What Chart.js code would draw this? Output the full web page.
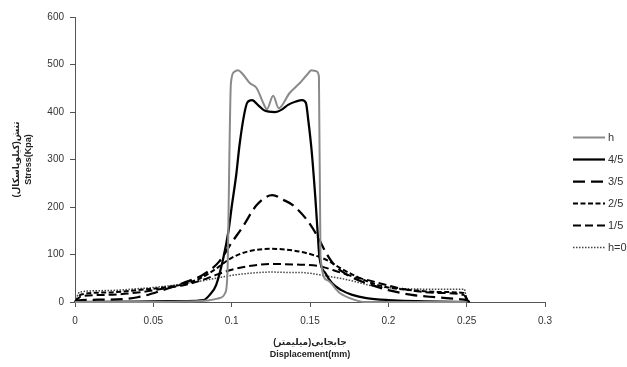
<!DOCTYPE html>
<html>
<head>
<meta charset="utf-8">
<script src="https://cdn.jsdelivr.net/npm/chart.js@4.4.0/dist/chart.umd.min.js"></script>
<style>
  html, body { margin: 0; padding: 0; background: #fff; }
  #wrap { width: 627px; height: 367px; position: relative; }
</style>
</head>
<body>
<div id="wrap"><canvas id="stressChart"></canvas></div>
<script>
// displacement (mm) / stress (kPa) per layer ratio
const hX = [0, 0.04, 0.07, 0.085, 0.092, 0.096, 0.0975, 0.0985, 0.0995, 0.1015, 0.104, 0.107, 0.1115, 0.116, 0.12, 0.1225, 0.1265, 0.13, 0.137, 0.1435, 0.148, 0.151, 0.154, 0.1557, 0.1567, 0.161, 0.169, 0.178, 0.185, 0.25];
const hY = [0, 0, 1, 3, 8, 20, 80, 300, 460, 484, 488, 480, 461, 450, 420, 406, 434, 408, 440, 461, 478, 488, 486, 475, 95, 46, 19, 5, 0, 0];

const fourX = [0, 0.04, 0.07, 0.082, 0.086, 0.09, 0.0945, 0.098, 0.1, 0.103, 0.105, 0.108, 0.11, 0.113, 0.117, 0.121, 0.1277, 0.132, 0.136, 0.141, 0.145, 0.1474, 0.149, 0.151, 0.1535, 0.155, 0.156, 0.16, 0.164, 0.17, 0.177, 0.186, 0.2, 0.25];
const fourY = [0, 1, 2, 4, 15, 35, 90, 150, 200, 270, 330, 395, 420, 425, 414, 403, 400, 405, 415, 422, 425, 419, 380, 320, 215, 140, 95, 60, 40, 25, 15, 8, 4, 0];

const threeX = [0, 0.004, 0.02, 0.04, 0.056, 0.069, 0.082, 0.092, 0.1, 0.107, 0.116, 0.126, 0.133, 0.139, 0.148, 0.155, 0.16, 0.165, 0.175, 0.19, 0.2, 0.215, 0.23, 0.245, 0.25, 0.252];
const threeY = [0, 4, 5, 10, 25, 40, 58, 85, 125, 158, 204, 225, 215, 204, 173, 137, 105, 80, 55, 35, 25, 15, 10, 6, 4, 0];

const twoX = [0, 0.004, 0.02, 0.04, 0.06, 0.07, 0.08, 0.09, 0.1, 0.11, 0.125, 0.14, 0.155, 0.162, 0.169, 0.182, 0.192, 0.203, 0.218, 0.233, 0.248, 0.251];
const twoY = [0, 16, 20, 25, 32, 38, 50, 70, 93, 106, 112, 108, 96, 86, 72, 50, 37, 29, 24, 21, 19, 0];

const oneX = [0, 0.004, 0.02, 0.04, 0.06, 0.07, 0.08, 0.09, 0.1, 0.11, 0.125, 0.14, 0.155, 0.165, 0.176, 0.187, 0.207, 0.22, 0.233, 0.248, 0.251];
const oneY = [0, 12, 15, 20, 30, 36, 45, 57, 68, 75, 80, 79, 76, 67, 55, 46, 29, 22, 19, 15, 0];

const zeroX = [0, 0.003, 0.02, 0.04, 0.06, 0.08, 0.09, 0.1, 0.11, 0.125, 0.14, 0.1436, 0.16, 0.175, 0.19, 0.21, 0.23, 0.2485, 0.25];
const zeroY = [0, 21, 24, 28, 34, 44, 50, 56, 60, 63, 62, 62, 55, 46, 34, 28, 27, 27, 0];

const seriesLabels = ['h', '4/5', '3/5', '2/5', '1/5', 'h=0'];
const xTicks = [0, 0.05, 0.1, 0.15, 0.2, 0.25, 0.3];
const yTicks = [0, 100, 200, 300, 400, 500, 600];

const FONT = '"Liberation Sans", "DejaVu Sans", sans-serif';
const AXIS = '#555';

function pts(xs, ys) {
    return xs.map((x, i) => ({ x: x, y: ys[i] }));
}

function line(label, xs, ys, color, width, dash) {
    return {
        label: label,
        data: pts(xs, ys),
        borderColor: color,
        backgroundColor: color,
        borderWidth: width,
        borderDash: dash,
        pointRadius: 0,
        cubicInterpolationMode: 'monotone',
        clip: false,
        fill: false
    };
}

// legend drawn to the right of the plot
const sideLegend = {
    id: 'sideLegend',
    afterDraw(chart) {
        const ctx = chart.ctx;
        const x0 = chart.chartArea.right + 28;
        chart.data.datasets.forEach((ds, i) => {
            const y = 137.5 + i * 22;
            ctx.save();
            ctx.strokeStyle = ds.borderColor;
            ctx.lineWidth = ds.borderWidth;
            ctx.setLineDash(ds.borderDash || []);
            ctx.beginPath();
            ctx.moveTo(x0, y);
            ctx.lineTo(x0 + 32, y);
            ctx.stroke();
            ctx.setLineDash([]);
            ctx.fillStyle = '#333';
            ctx.font = '11px ' + FONT;
            ctx.textBaseline = 'middle';
            ctx.fillText(ds.label, x0 + 35, y);
            ctx.restore();
        });
    }
};

new Chart(document.getElementById('stressChart'), {
    type: 'line',
    data: {
        datasets: [
            line(seriesLabels[0], hX, hY, '#8a8a8a', 2, []),
            line(seriesLabels[1], fourX, fourY, '#000', 2.25, []),
            line(seriesLabels[2], threeX, threeY, '#000', 2.25, [12, 6]),
            line(seriesLabels[3], twoX, twoY, '#000', 2, [5, 2.5]),
            line(seriesLabels[4], oneX, oneY, '#000', 2, [8, 4]),
            line(seriesLabels[5], zeroX, zeroY, '#444', 1.5, [1.5, 1.5])
        ]
    },
    options: {
        responsive: true,
        maintainAspectRatio: false,
        animation: false,
        layout: { padding: { left: 0, right: 82, top: 17, bottom: 0 } },
        plugins: {
            legend: { display: false },
            tooltip: { enabled: false }
        },
        scales: {
            x: {
                type: 'linear',
                min: 0,
                max: 0.3,
                afterFit: s => { s.height = 65; },
                afterBuildTicks: s => { s.ticks = xTicks.map(v => ({ value: v })); },
                ticks: {
                    color: '#333',
                    padding: 8,
                    maxRotation: 0,
                    font: { family: FONT, size: 10 },
                    callback: v => String(+v.toFixed(2))
                },
                grid: { display: true, drawOnChartArea: false, drawTicks: true, tickLength: 5, color: AXIS },
                border: { display: true, color: AXIS, width: 1 },
                title: {
                    display: true,
                    text: ['جابجایی(میلیمتر)', 'Displacement(mm)'],
                    color: '#222',
                    font: { family: FONT, size: 9, weight: 'bold', lineHeight: 1.4 },
                    padding: { top: 0, bottom: 6 }
                }
            },
            y: {
                min: 0,
                max: 600,
                afterFit: s => { s.width = 75; },
                afterBuildTicks: s => { s.ticks = yTicks.map(v => ({ value: v })); },
                ticks: {
                    color: '#333',
                    padding: 6,
                    font: { family: FONT, size: 10 }
                },
                grid: { display: true, drawOnChartArea: false, drawTicks: true, tickLength: 5, color: AXIS },
                border: { display: true, color: AXIS, width: 1 },
                title: {
                    display: true,
                    text: ['تنش(کیلوپاسکال)', 'Stress(Kpa)'],
                    color: '#222',
                    font: { family: FONT, size: 9, weight: 'bold', lineHeight: 1.33 },
                    padding: { top: 11, bottom: 0 }
                }
            }
        }
    },
    plugins: [sideLegend]
});
</script>
</body>
</html>
